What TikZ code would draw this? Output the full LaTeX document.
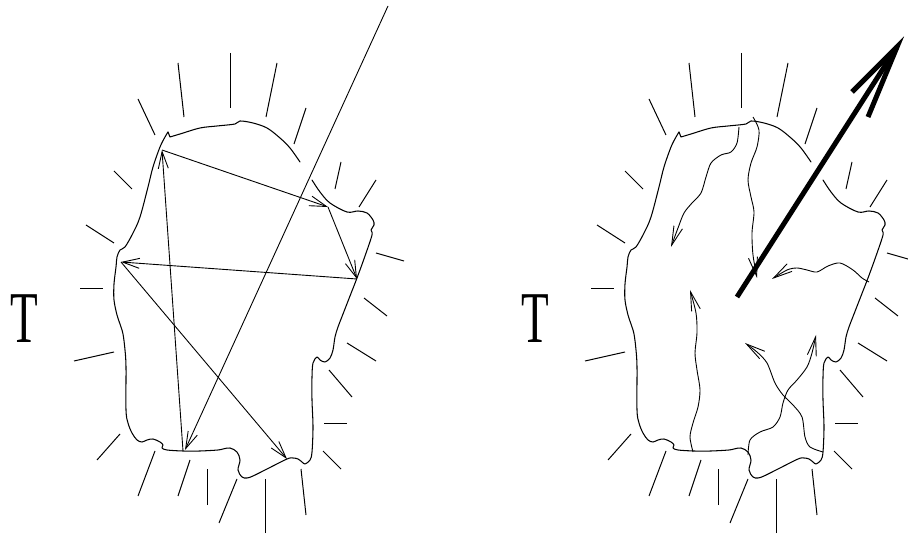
\documentclass[tikz,border=0pt]{standalone}
\usepackage{fontspec}
\usepackage{graphicx}
\usetikzlibrary{arrows.meta}
\newfontfamily\tfont{Liberation Serif}
\tikzset{
  outline/.style={line width=1.05pt, line join=round, line cap=round},
  tickline/.style={line width=1pt},
  thinarrow/.style={line width=0.9pt, -{Straight Barb[length=17pt,width=10pt]}},
  wavyarrow/.style={line width=0.9pt, -{Straight Barb[length=19pt,width=9pt]}},
  heavy/.style={line width=5pt, line cap=butt, line join=miter},
  tletter/.style={inner sep=0pt, font=\tfont\fontsize{73}{73}\selectfont},
  blob/.pic={
    \draw[outline] plot[smooth, tension=0.55] coordinates {
      (312,180) (320,192) (330,203) (347,212) (358,211) (367,213) (373,220) (374,225)
      (371,230) (372,235) (365,256) (357,278) (350,296) (343,314) (338,327) (335,337)
      (333,350) (330,358) (325,362) (320,360) (317,357) (313,363) (312,377) (312,400)
      (313,427) (312,452) (310,460) (305,464) (302,462) (298,459) (293,458) (287,459)
      (267,469) (253,476) (247,478) (242,477) (238,470) (240,460) (237,452) (230,448)
      (223,449) (218,450) (200,451) (183,451) (167,450) (162,448) (163,445) (160,442)
      (153,439) (147,440) (142,442) (137,440) (132,433) (128,423) (126,410) (126,367)
      (125,350) (123,334) (120,324) (117,315) (114,300) (114,284) (116,267) (117,257)
      (120,250) (125,247) (133,233) (140,217) (148,187) (153,167) (160,147) (165,137)
      (168,132)};
    \draw[outline] (168,132) -- (170,137) plot[smooth, tension=0.55] coordinates {
      (170,137) (180,134) (200,128) (217,126) (235,124) (240,121) (253,123) (267,128)
      (280,138) (290,148) (300,162)};
    \foreach \a/\b/\c/\d in {138/99/155/135, 178/63/184/117, 230/53/230/108,
      277/63/266/117, 306/108/294/144, 341/162/335/189, 376/180/359/207,
      376/253/404/261, 114/171/132/189, 86/225/114/243, 80/289/103/289,
      74/361/114/352, 97/460/120/434, 138/496/155/451, 178/496/190/460,
      207/505/207/469, 219/523/237/479, 265/533/265/479, 306/515/301/469,
      341/469/323/451, 324/424/347/424, 329/370/352/397, 347/343/376/361,
      364/298/387/316}
      \draw[tickline] (\a,\b) -- (\c,\d);
    \node[tletter] (T) at (24,319) {\scalebox{0.62}[1]{T}};
  }
}
\begin{document}
\begin{tikzpicture}[x=1pt, y=-1pt]
\path[use as bounding box] (0,0) rectangle (908,534);
\pic (L) at (0,0) {blob};
\pic (R) at (511,0) {blob};
% left blob: straight arrows
\coordinate (a1) at (183,451);
\coordinate (a2) at (162,150);
\coordinate (a3) at (328,207);
\coordinate (a4) at (357,279);
\coordinate (a5) at (121,262);
\coordinate (a6) at (287,459);
\coordinate (s0) at (388,6);
\coordinate (s1) at (185,450);
\draw[thinarrow] (a1) -- (a2);
\draw[thinarrow] (a2) -- (a3);
\draw[thinarrow] (a3) -- (a4);
\draw[thinarrow] (a4) -- (a5);
\draw[thinarrow] (a5) -- (a6);
\draw[thinarrow] (s0) -- (s1);
% right blob: wavy arrows
\draw[wavyarrow] plot[smooth] coordinates {(739,127) (737,143) (731,152) (721,155) (711,163) (706,177) (701,193) (692,203) (684,213) (678,228) (671,247)};
\draw[wavyarrow] plot[smooth] coordinates {(753,117) (759,130) (757,147) (751,163) (748,180) (751,197) (754,212) (752,233) (753,255) (757,278)};
\draw[wavyarrow] plot[smooth] coordinates {(869,282) (862,278) (853,270) (840,263) (828,266) (817,272) (807,270) (797,268) (787,270) (772,279)};
\draw[wavyarrow] plot[smooth] coordinates {(693,452) (690,437) (693,423) (698,407) (700,390) (697,370) (695,353) (697,333) (696,313) (690,290)};
\draw[wavyarrow] plot[smooth] coordinates {(823,452) (810,447) (805,437) (802,417) (793,405) (783,395) (775,383) (767,363) (757,352) (745,343)};
\draw[wavyarrow] plot[smooth] coordinates {(748,455) (750,440) (760,432) (773,427) (780,417) (783,403) (788,390) (797,380) (807,367) (812,353) (816,335)};
% thick arrow
\coordinate (h0) at (737,297);
\coordinate (h1) at (897,47);
\coordinate (hb1) at (852,92);
\coordinate (hb2) at (868,117);
\draw[heavy] (h0) -- (h1);
\draw[heavy] (hb1) -- (h1) -- (hb2);
\end{tikzpicture}
\end{document}
